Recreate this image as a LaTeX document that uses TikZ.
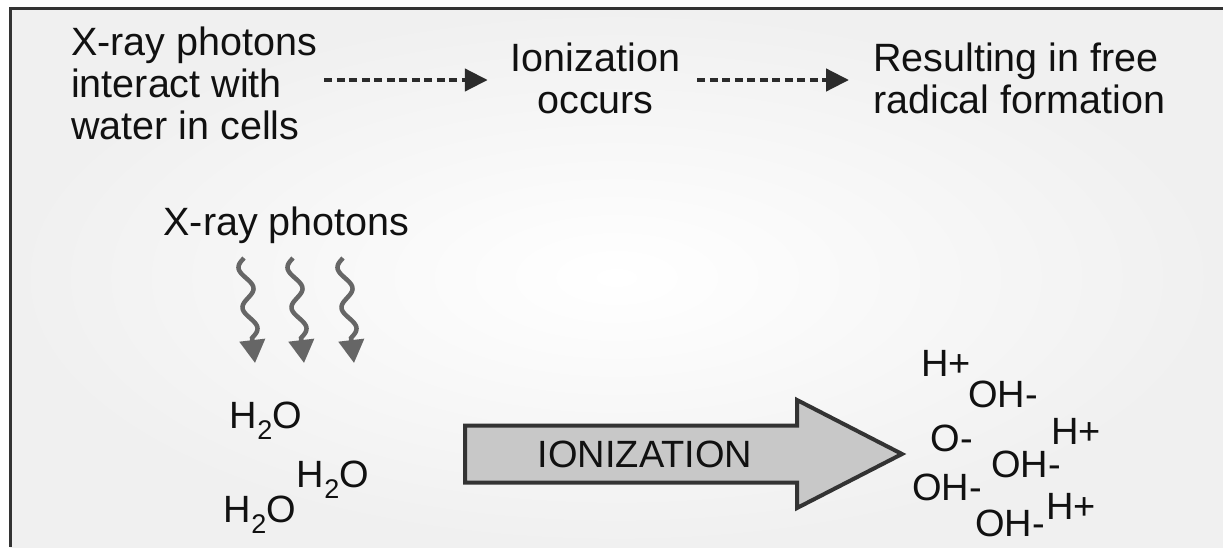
\documentclass[tikz,border=0pt]{standalone}
\usepackage{fontspec}
\setmainfont{Liberation Sans}
\usetikzlibrary{arrows.meta,calc}
\definecolor{framec}{HTML}{333333}
\definecolor{darkc}{HTML}{2B2B2B}
\definecolor{wavec}{HTML}{666666}
\definecolor{fillc}{HTML}{C8C8C8}
\definecolor{bgc}{HTML}{F0F0F0}
\definecolor{txtc}{HTML}{111111}
\newcommand\sbtwo{\raisebox{-0.3em}{\fontsize{27}{27}\selectfont 2}}
\begin{document}
\begin{tikzpicture}[x=1pt,y=-1pt,
  txt/.style={inner sep=0pt, text=txtc, font=\fontsize{39.5}{42}\selectfont},
  ion/.style={inner sep=0pt, text=txtc, font=\fontsize{38}{40}\selectfont},
  dasharrow/.style={draw=darkc, line width=4.5pt, dash pattern=on 8pt off 4.5pt, -{Triangle[length=23pt,width=22pt]}},
  wave/.style={draw=wavec, line width=4.5pt, -{Triangle[length=23pt,width=25pt]}},
  bigarrow/.style={fill=fillc, draw=framec, line width=4pt, line join=miter}]
\useasboundingbox (0,0) rectangle (1223,547);
\fill[white] (0,0) rectangle (1223,547);
\shade[inner color=white, outer color=bgc] (10,8) rectangle (1223,547);
\draw[framec, line width=3pt] (10,547) -- (10,8) -- (1223,8);

% top flow
\node[txt, anchor=west, align=left] (src) at (71,83) {X-ray photons\\interact with\\water in cells};
\node[txt, align=center] (ion) at (595.5,78.5) {Ionization\\occurs};
\node[txt, anchor=west, align=left] (res) at (873,78.5) {Resulting in free\\radical formation};
\draw[dasharrow] ($(src.east)+(7,-3)$) -- ($(ion.west)+(-23,1.5)$);
\draw[dasharrow] ($(ion.east)+(17,1.5)$) -- ($(res.west)+(-24,1.5)$);

% photons
\node[txt] (xr) at (286.5,225) {X-ray photons};
\foreach \xa in {244,293,343} {
  \draw[wave] plot[domain=0:1, samples=60, smooth, variable=\t] ({\xa+8*\t-6.5*sin(720*\t)},{258+80*\t}) -- (\xa+11,363);
}

% water
\node[ion, anchor=base] (w1) at (266,428) {H\sbtwo O};
\node[ion, anchor=base] (w2) at (333,487) {H\sbtwo O};
\node[ion, anchor=base] (w3) at (260,522) {H\sbtwo O};

% big arrow
\draw[bigarrow] (465,425.5) -- (797,425.5) -- (797,400) -- (902,454) -- (797,508) -- (797,482.5) -- (465,482.5) -- cycle;
\node[ion] (lbl) at (645,454) {IONIZATION};

% ions
\node[ion, anchor=base] (h1) at (946,376) {H+};
\node[ion, anchor=base] (oh1) at (1003,407) {OH-};
\node[ion, anchor=base] (o1) at (952,451) {O-};
\node[ion, anchor=base] (h2) at (1076,444) {H+};
\node[ion, anchor=base] (oh2) at (1026,477) {OH-};
\node[ion, anchor=base] (oh3) at (947,500) {OH-};
\node[ion, anchor=base] (h3) at (1071,519) {H+};
\node[ion, anchor=base] (oh4) at (1010,536) {OH-};
\end{tikzpicture}
\end{document}
